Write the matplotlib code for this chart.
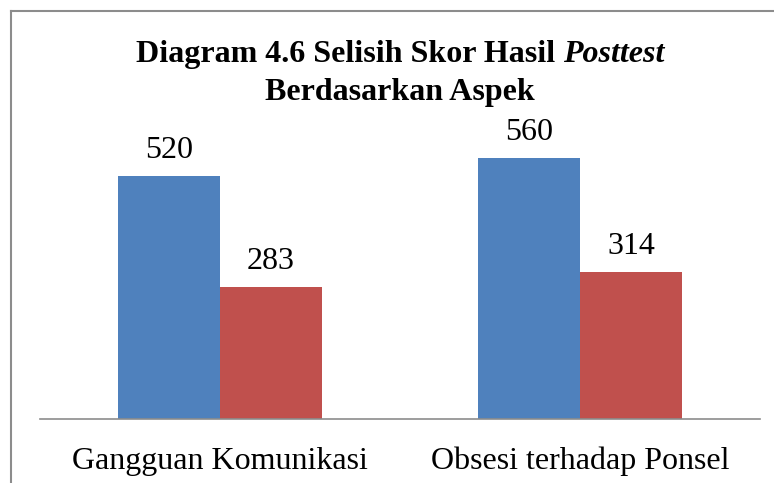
import matplotlib
matplotlib.use("Agg")
import matplotlib.pyplot as plt
from matplotlib.lines import Line2D
import numpy as np

categories = ["Gangguan Komunikasi", "Obsesi terhadap Ponsel"]
series_a = [520, 560]
series_b = [283, 314]
colors = ["#4F81BD", "#C0504D"]

plt.rcParams['font.family'] = ['Liberation Serif', 'DejaVu Serif']

W, H = 774, 483
fig = plt.figure(figsize=(W / 100, H / 100), dpi=100)
ax = fig.add_axes([40 / W, (H - 419) / H, 720 / W, 280 / H])

x = np.arange(len(categories))
bw = 0.283
bars_a = ax.bar(x - bw / 2, series_a, bw, color=colors[0])
bars_b = ax.bar(x + bw / 2, series_b, bw, color=colors[1])
for bars, vals in ((bars_a, series_a), (bars_b, series_b)):
    for b, v in zip(bars, vals):
        ax.annotate(str(v), (b.get_x() + b.get_width() / 2, v),
                    xytext=(0, 8), textcoords='offset points',
                    ha='center', va='bottom', fontsize=23)

ax.set_xlim(-0.5, 1.5)
ax.set_ylim(0, 600)
ax.set_xticks(x)
ax.set_xticklabels(categories, fontsize=23)
ax.tick_params(axis='x', length=0, pad=20)
ax.set_yticks([])
for s in ('left', 'right', 'top'):
    ax.spines[s].set_visible(False)
ax.spines['bottom'].set_color('#8C8C8C')
ax.spines['bottom'].set_linewidth(1.2)

# outer frame (left and top visible)
fig.add_artist(Line2D([10.5 / W, 10.5 / W], [0, 1 - 11 / H], color='#8C8C8C', lw=1.5, transform=fig.transFigure))
fig.add_artist(Line2D([10.5 / W, 1], [1 - 11 / H, 1 - 11 / H], color='#8C8C8C', lw=1.5, transform=fig.transFigure))

# title with mixed styles
fs = 23
cx = 400 / W
y1 = 1 - 62 / H
y2 = 1 - 100 / H
r = fig.canvas.get_renderer()
t1 = fig.text(0, y1, "Diagram 4.6 Selisih Skor Hasil ", fontsize=fs, fontweight='bold', va='baseline', ha='left')
t2 = fig.text(0, y1, "Posttest", fontsize=fs, fontweight='bold', style='italic', va='baseline', ha='left')
w1 = t1.get_window_extent(r).width / W
w2 = t2.get_window_extent(r).width / W
start = cx - (w1 + w2) / 2
t1.set_x(start)
t2.set_x(start + w1)
fig.text(cx, y2, "Berdasarkan Aspek", fontsize=fs, fontweight='bold', va='baseline', ha='center')

fig.savefig("out.png", dpi=100)
